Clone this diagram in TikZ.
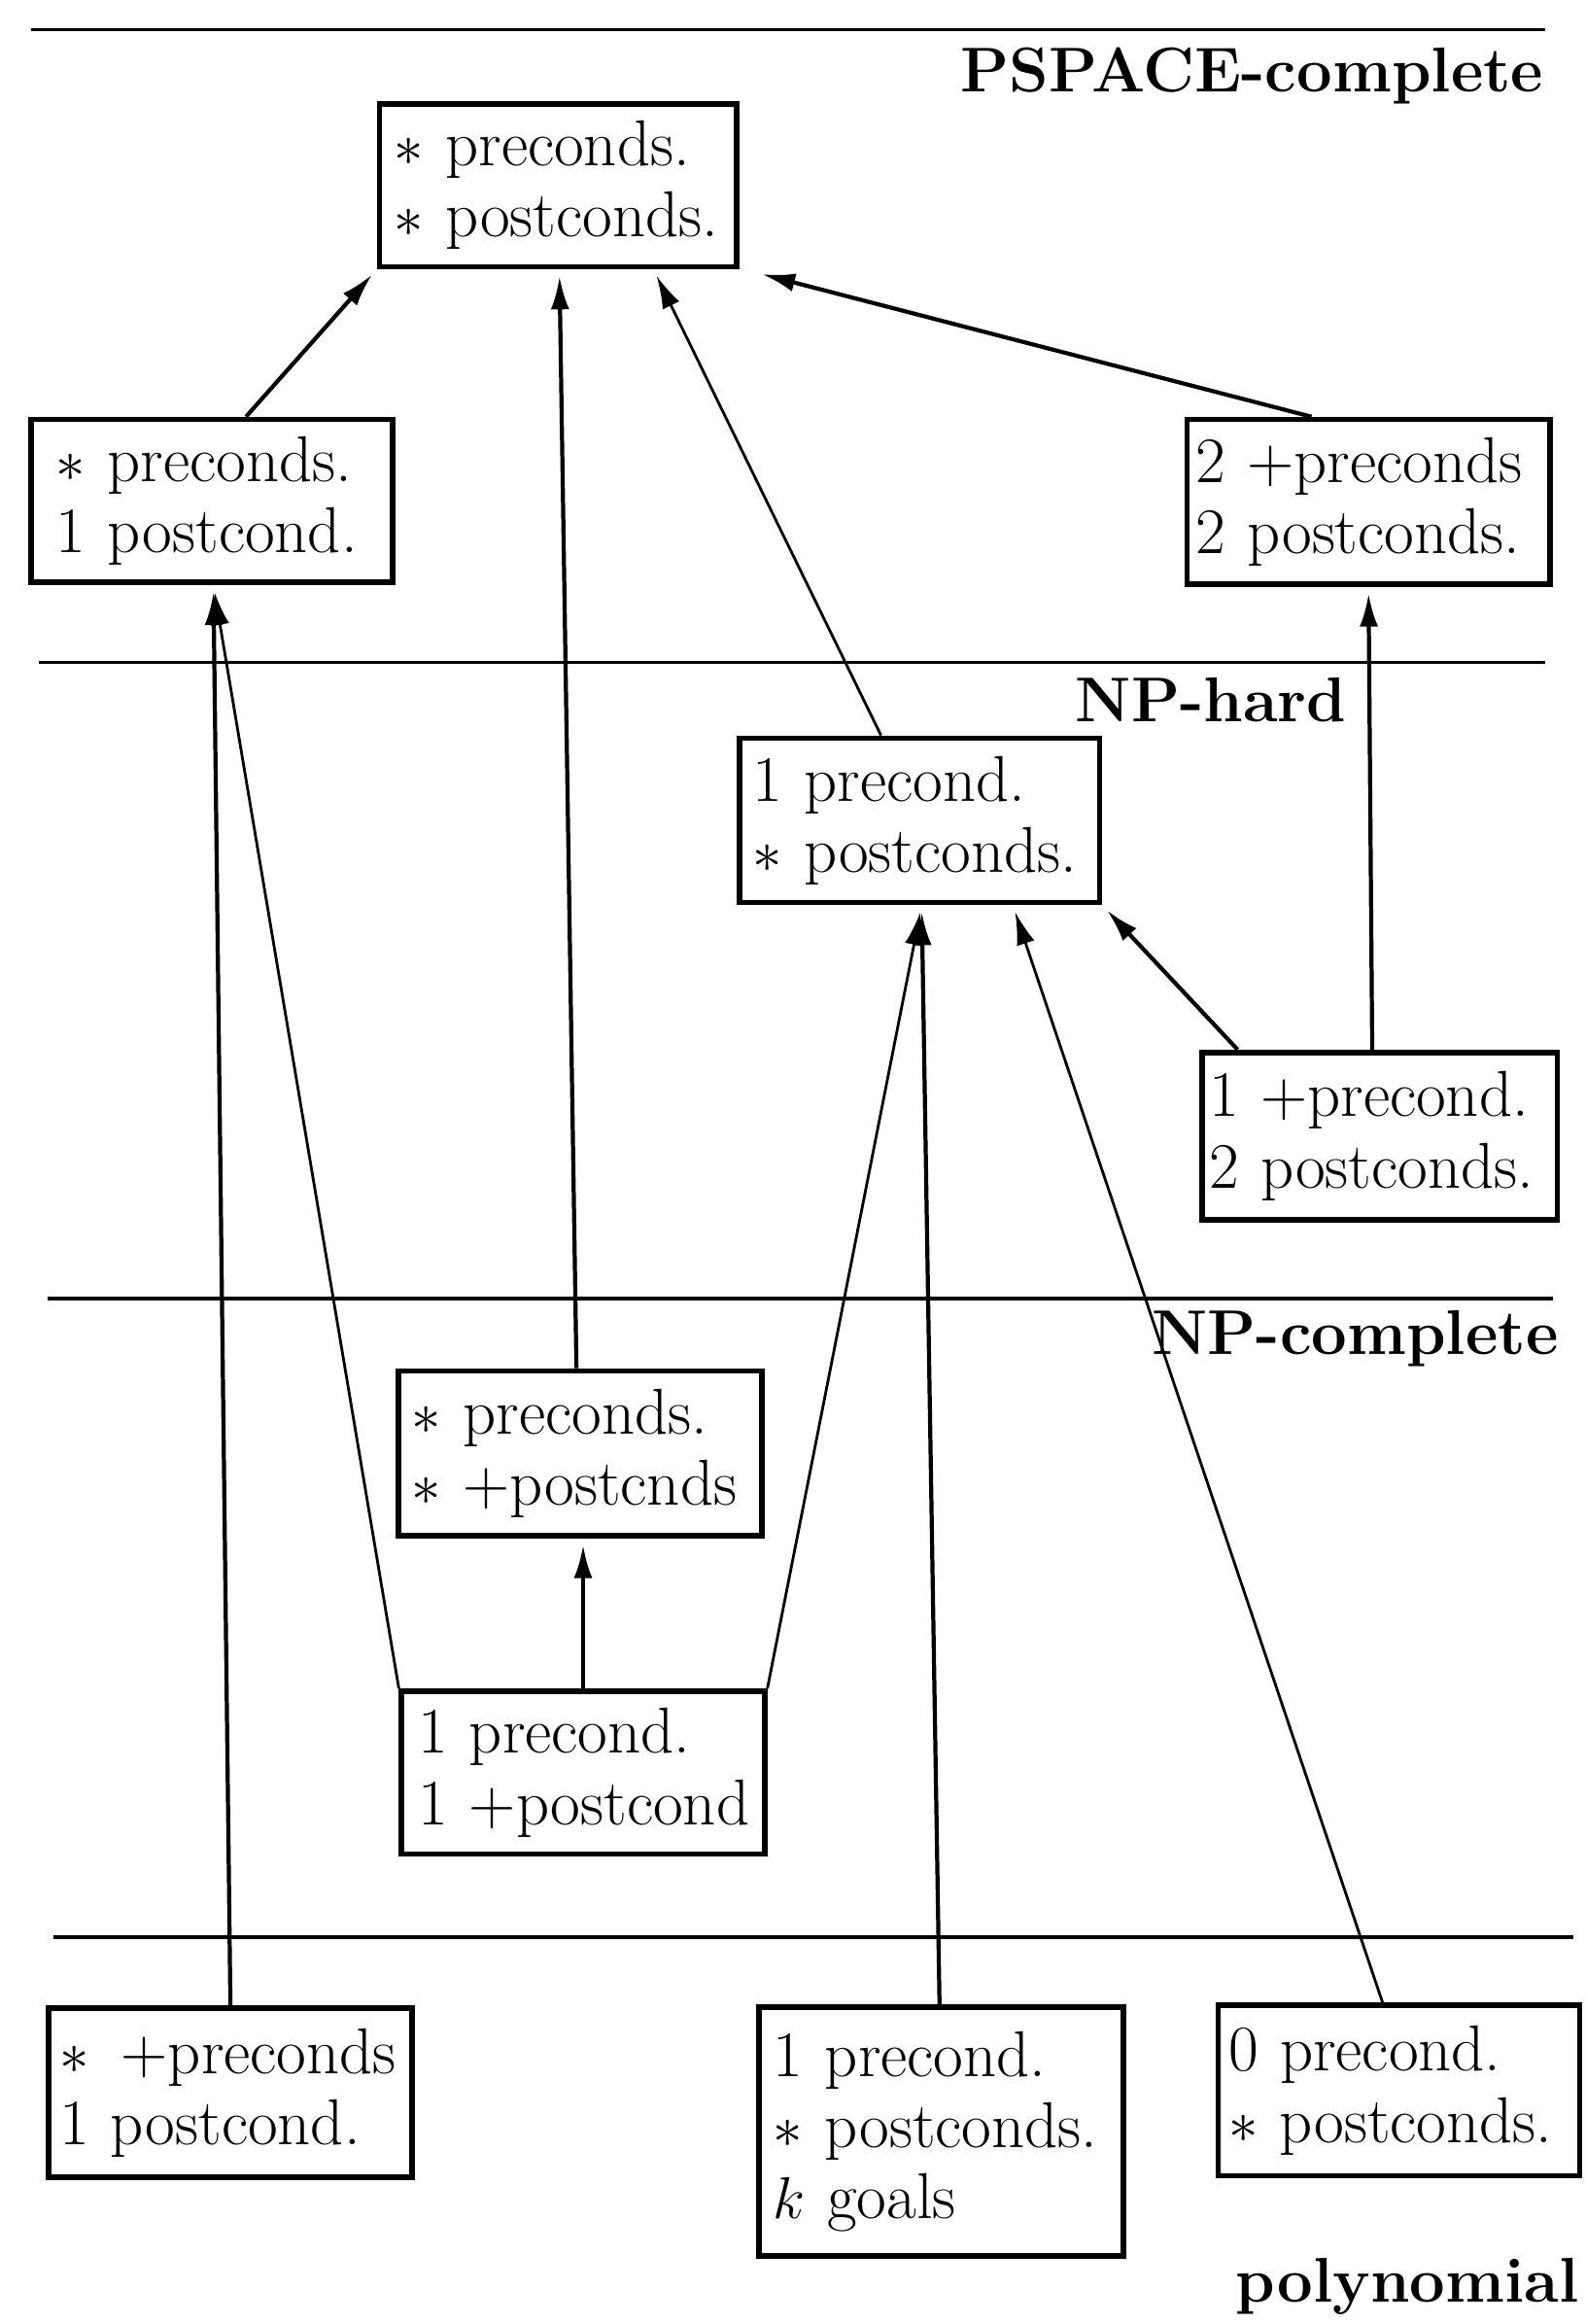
\documentclass[tikz,border=0pt]{standalone}
\usetikzlibrary{arrows.meta,calc}
\tikzset{
  box/.style={draw, line width=1.6pt, fill=white, align=left, inner ysep=0pt,
    font=\fontsize{19}{20.8}\selectfont},
  lbl/.style={font=\fontsize{18.5}{21}\selectfont\bfseries, inner sep=0pt, anchor=base east},
  sepline/.style={line width=1pt},
  conn/.style={line width=1.2pt, -{Latex[length=3.4mm,width=1.9mm]}, shorten >=0.7mm},
  connthin/.style={line width=0.8pt, -{Latex[length=3.4mm,width=1.9mm]}, shorten >=0.7mm}
}
\begin{document}
\begin{tikzpicture}[x=0.15243mm, y=-0.15243mm]
\useasboundingbox (0,0) rectangle (1070,1568);

% separator lines
\draw[sepline] (21,20) -- (1043,20);
\draw[sepline] (26,447) -- (1043,447);
\draw[sepline] (32,876) -- (1048,876);
\draw[sepline] (36,1307) -- (1062,1307);

% class labels
\node[lbl] (pspace) at (1042,62) {PSPACE-complete};
\node[lbl] (nphard) at (909,487) {NP-hard};
\node[lbl] (npc) at (1052,914) {NP-complete};
\node[lbl] (poly) at (1066,1553) {polynomial};

% boxes
\node[box, minimum width=36.74mm, minimum height=16.77mm, inner xsep=1.52mm, text width=33.69mm]
  (A) at (376.5,125) {$\ast$ preconds.\\$\ast$ postconds.};
\node[box, minimum width=37.19mm, minimum height=16.77mm, inner xsep=2.59mm, text width=32.01mm]
  (B) at (143,338) {$\ast$ preconds.\\1 postcond.};
\node[box, minimum width=37.35mm, minimum height=16.92mm, inner xsep=0.91mm, text width=35.52mm]
  (C) at (923.5,338.5) {2 +preconds\\2 postconds.};
\node[box, minimum width=37.04mm, minimum height=16.92mm, inner xsep=1.37mm, text width=34.30mm]
  (D) at (620.5,553.5) {1 precond.\\$\ast$ postconds.};
\node[box, minimum width=36.58mm, minimum height=17.22mm, inner xsep=0.76mm, text width=35.06mm]
  (E) at (931,766.5) {1 +precond.\\2 postconds.};
\node[box, minimum width=37.35mm, minimum height=16.92mm, inner xsep=1.37mm, text width=34.60mm]
  (F) at (391.5,980.5) {$\ast$ preconds.\\$\ast$ +postcnds};
\node[box, minimum width=37.35mm, minimum height=16.77mm, inner xsep=1.68mm, text width=33.99mm]
  (G) at (393.5,1196) {1 precond.\\\mbox{1 +postcond}};
\node[box, minimum width=37.35mm, minimum height=17.38mm, inner xsep=1.07mm, text width=35.21mm]
  (H) at (155.5,1412) {\mbox{$\ast$\hspace{0.5em}+preconds}\\1 postcond.};
\node[box, minimum width=37.50mm, minimum height=25.61mm, inner xsep=1.52mm, text width=34.45mm]
  (I) at (635,1438) {1 precond.\\$\ast$ postconds.\\$k$ goals};
\node[box, minimum width=37.19mm, minimum height=17.53mm, inner xsep=1.07mm, text width=35.06mm]
  (J) at (944,1410.5) {0 precond.\\$\ast$ postconds.};

% connectors
\draw[conn] ($(B.north)+(23,0)$) -- (A.south west);
\draw[conn] ($(F.north)+(-2.5,0)$) -- ($(A.south)+(1,0)$);
\draw[connthin] ($(D.north)+(-26,0)$) -- ($(A.south)+(64.5,0)$);
\draw[conn] ($(C.north)+(-38.5,0)$) -- ($(A.south east)+(11,2)$);
\draw[conn] ($(E.north)+(-5,0)$) -- (C.south);
\draw[conn] ($(E.north west)+(26,0)$) -- (D.south east);
\draw[connthin] (G.north west) -- ($(B.south)+(1,0)$);
\draw[conn] (H.north) -- ($(B.south)+(1,0)$);
\draw[conn] (G.north) -- ($(F.south)+(2,0)$);
\draw[connthin] (G.north east) -- ($(D.south)+(1.5,0)$);
\draw[conn] ($(I.north)+(-1,0)$) -- ($(D.south)+(1.5,0)$);
\draw[connthin] ($(J.north)+(-11,0)$) -- ($(D.south)+(63,0)$);
\end{tikzpicture}
\end{document}
